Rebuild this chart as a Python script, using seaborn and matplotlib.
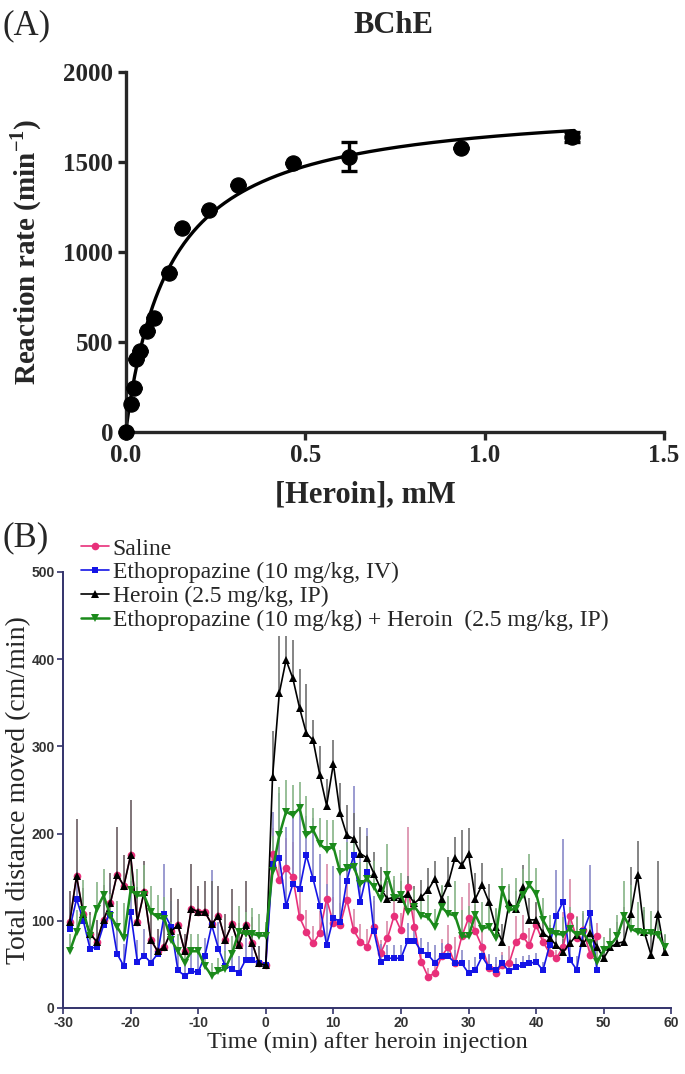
import numpy as np
import pandas as pd
import matplotlib
matplotlib.use("Agg")
import matplotlib.pyplot as plt
import seaborn as sns

# ---------------- Panel A: BChE kinetics ----------------
conc = [0.0, 0.0156, 0.0227, 0.0296, 0.0405, 0.059, 0.079, 0.1196, 0.156,
        0.233, 0.314, 0.467, 0.623, 0.934, 1.243]
rate = [0, 154, 241, 402, 450, 559, 635, 885, 1130, 1231, 1370, 1496, 1528, 1578, 1639]
rate_sem = [0, 0, 0, 0, 0, 0, 0, 0, 0, 0, 0, 0, 80, 0, 28]

# ---------------- Panel B: locomotor activity ----------------
t_pre = list(range(-29, 1))
t_post_short = list(range(1, 50))
t_post_long = list(range(1, 60))

# saline and heroin groups share the baseline trace
baseline_pre = [99, 151, 108, 85, 76, 101, 120, 153, 140, 175, 99, 133, 78, 65, 70,
                88, 95, 65, 114, 110, 110, 96, 106, 78, 96, 72, 95, 74, 51, 49]
baseline_pre_err = [35, 66, 30, 25, 25, 40, 35, 55, 35, 63, 40, 35, 30, 25, 30,
                    50, 30, 20, 51, 30, 36, 50, 34, 30, 40, 25, 50, 30, 20, 10]

etho_pre = [91, 125, 100, 68, 70, 95, 108, 62, 48, 110, 53, 60, 52, 62, 108,
            93, 43, 37, 42, 41, 60, 95, 68, 48, 45, 40, 55, 55, 51, 49]
etho_pre_err = [25, 33, 30, 25, 30, 30, 35, 30, 25, 35, 25, 30, 25, 20, 57,
                30, 25, 20, 25, 25, 20, 63, 30, 25, 20, 20, 25, 20, 20, 10]

combo_pre = [65, 87, 112, 82, 114, 129, 106, 93, 80, 135, 129, 129, 110, 104, 102,
             78, 65, 52, 65, 65, 48, 37, 42, 45, 62, 87, 85, 85, 83, 83]
combo_pre_err = [20, 25, 35, 25, 30, 30, 25, 30, 40, 35, 30, 35, 30, 25, 25,
                 20, 20, 15, 20, 20, 15, 15, 15, 20, 20, 30, 25, 30, 25, 15]

saline_post = [176, 147, 160, 150, 104, 87, 74, 86, 125, 97, 95, 124, 89, 76, 70,
               93, 63, 80, 106, 89, 139, 93, 53, 36, 40, 59, 70, 51, 82, 103,
               88, 70, 46, 40, 49, 51, 76, 82, 72, 95, 76, 63, 57, 70, 105,
               80, 89, 61, 82]
saline_post_err = [30, 45, 35, 40, 30, 25, 20, 25, 40, 30, 25, 35, 25, 20, 20,
                   30, 15, 20, 25, 20, 68, 30, 15, 10, 15, 20, 25, 30, 45, 40,
                   30, 20, 15, 10, 15, 20, 30, 25, 20, 25, 15, 15, 10, 40, 43,
                   25, 20, 15, 15]

etho_post = [165, 172, 117, 142, 136, 175, 148, 117, 72, 103, 99, 146, 175, 122, 156,
             88, 53, 57, 57, 57, 77, 77, 65, 61, 52, 59, 59, 52, 51, 40,
             43, 59, 47, 43, 51, 42, 47, 49, 51, 53, 43, 72, 106, 122, 55,
             44, 88, 109, 43]
etho_post_err = [60, 74, 90, 80, 100, 45, 70, 60, 70, 60, 65, 50, 80, 60, 50,
                 40, 20, 15, 15, 15, 20, 20, 15, 15, 20, 15, 15, 15, 15, 15,
                 15, 15, 15, 15, 10, 10, 10, 10, 10, 10, 10, 15, 52, 72, 20,
                 15, 20, 55, 15]

heroin_post = [265, 361, 399, 378, 344, 315, 307, 267, 232, 280, 223, 198, 194, 177, 172,
               154, 137, 125, 127, 125, 131, 120, 127, 135, 148, 125, 143, 172, 164, 177,
               125, 141, 122, 93, 76, 120, 114, 139, 101, 101, 86, 80, 72, 64, 74,
               84, 74, 86, 70, 57, 70, 74, 76, 108, 152, 87, 61, 108, 64]
heroin_post_err = [53, 65, 28, 44, 45, 57, 23, 33, 30, 27, 35, 35, 30, 30, 25,
                   25, 25, 20, 20, 20, 20, 20, 20, 25, 20, 15, 30, 24, 40, 29,
                   30, 25, 20, 20, 20, 20, 20, 25, 25, 20, 15, 15, 15, 15, 20,
                   20, 20, 20, 15, 15, 20, 25, 40, 54, 40, 25, 30, 60, 20]

combo_post = [157, 198, 225, 221, 229, 198, 204, 188, 181, 185, 156, 160, 162, 142, 148,
              139, 125, 153, 126, 130, 110, 116, 106, 104, 93, 116, 108, 106, 82, 82,
              107, 91, 93, 80, 135, 112, 114, 129, 141, 131, 101, 87, 85, 84, 91,
              84, 86, 74, 53, 66, 72, 82, 105, 91, 87, 86, 86, 84, 70]
combo_post_err = [40, 55, 36, 35, 30, 45, 25, 30, 35, 30, 25, 30, 30, 25, 25,
                  30, 20, 35, 25, 25, 20, 20, 20, 25, 20, 25, 20, 40, 30, 35,
                  25, 30, 25, 35, 25, 30, 35, 30, 35, 30, 25, 20, 20, 20, 25,
                  20, 25, 20, 15, 15, 20, 25, 40, 50, 35, 30, 25, 25, 15]

group_labels = ["Saline",
                "Ethopropazine (10 mg/kg, IV)",
                "Heroin (2.5 mg/kg, IP)",
                "Ethopropazine (10 mg/kg) + Heroin  (2.5 mg/kg, IP)"]
line_colors = ["#e8307a", "#1414e6", "#000000", "#1b8a1b"]
err_colors = ["#d98aa8", "#8a8ac8", "#707070", "#86b486"]
group_markers = ["o", "s", "^", "v"]

# ---------------- style ----------------
sns.set_style("ticks")
plt.rcParams["font.family"] = ["Liberation Serif", "DejaVu Serif"]
plt.rcParams["mathtext.fontset"] = "custom"
plt.rcParams["mathtext.rm"] = "Liberation Serif"
plt.rcParams["mathtext.bf"] = "Liberation Serif:bold"
plt.rcParams["axes.unicode_minus"] = False

fig = plt.figure(figsize=(6.85, 10.74), dpi=100)
axA = fig.add_axes([0.1835, 0.598, 0.786, 0.335])
axB = fig.add_axes([0.092, 0.0615, 0.888, 0.406])

# ---- Panel A ----
# Michaelis-Menten fit: best Km on a grid, Vmax by least squares
c_arr = np.array(conc)
r_arr = np.array(rate, dtype=float)
best = None
for km in np.linspace(0.02, 0.4, 381):
    f = c_arr / (km + c_arr)
    vmax = (f @ r_arr) / (f @ f)
    sse = ((r_arr - vmax * f) ** 2).sum()
    if best is None or sse < best[0]:
        best = (sse, km, vmax)
_, km_fit, vmax_fit = best
x_fit = np.linspace(0, 1.25, 300)
y_fit = vmax_fit * x_fit / (km_fit + x_fit)

sns.lineplot(x=x_fit, y=y_fit, ax=axA, color="black", lw=2.4)
axA.errorbar(conc, rate, yerr=rate_sem, fmt="none", ecolor="black",
             elinewidth=2.4, capsize=6, capthick=2.4, zorder=3)
sns.scatterplot(x=conc, y=rate, ax=axA, color="black", s=120, edgecolor="black",
                zorder=4, clip_on=False)
axA.set_xlim(0, 1.5)
axA.set_ylim(0, 2000)
axA.set_xticks([0, 0.5, 1.0, 1.5])
axA.set_xticklabels(["0.0", "0.5", "1.0", "1.5"])
axA.set_yticks([0, 500, 1000, 1500, 2000])
sns.despine(ax=axA)
for s in ["left", "bottom"]:
    axA.spines[s].set_linewidth(2.4)
axA.tick_params(width=2.4, length=6, labelsize=18, pad=3)
for lab in axA.get_xticklabels() + axA.get_yticklabels():
    lab.set_fontweight("bold")
axA.set_xlabel("[Heroin], mM", fontsize=22, fontweight="bold", labelpad=4)
axA.xaxis.set_label_coords(0.445, -0.135)
axA.set_ylabel(r"Reaction rate (min$^{\mathbf{-1}}$)", fontsize=21,
               fontweight="bold", labelpad=14)
fig.text(0.003, 0.976, "(A)", fontsize=25, va="center", ha="left")
fig.text(0.574, 0.976, "BChE", fontsize=22, fontweight="bold", va="center", ha="center")

# ---- Panel B ----
series = [
    (t_pre + t_post_short, baseline_pre + saline_post, baseline_pre_err + saline_post_err),
    (t_pre + t_post_short, etho_pre + etho_post, etho_pre_err + etho_post_err),
    (t_pre + t_post_long, baseline_pre + heroin_post, baseline_pre_err + heroin_post_err),
    (t_pre + t_post_long, combo_pre + combo_post, combo_pre_err + combo_post_err),
]
line_widths = [1.2, 1.2, 1.2, 1.8]
marker_sizes = [5.5, 4.5, 5.5, 6]

for i, (t, y, e) in enumerate(series):
    y = np.array(y, dtype=float)
    axB.vlines(t, y, y + np.array(e), color=err_colors[i], lw=1.2, zorder=1 + i * 0.1)

for i, (t, y, e) in enumerate(series):
    df = pd.DataFrame({"time": t, "dist": y})
    sns.lineplot(data=df, x="time", y="dist", ax=axB, color=line_colors[i],
                 lw=line_widths[i], marker=group_markers[i], markersize=marker_sizes[i],
                 markeredgewidth=0, markerfacecolor=line_colors[i],
                 label=group_labels[i], zorder=3 + i)

handles, labels = axB.get_legend_handles_labels()
axB.get_legend().remove()
fig.legend(handles, labels, loc="upper left", bbox_to_anchor=(0.118, 0.499),
           frameon=False, fontsize=17, handlelength=1.2, handletextpad=0.15,
           labelspacing=0.1, borderpad=0, borderaxespad=0)

axB.set_xlim(-30, 60)
axB.set_ylim(0, 500)
axB.set_xticks(range(-30, 61, 10))
axB.set_yticks(range(0, 501, 100))
sns.despine(ax=axB)
navy = "#33336b"
for s in ["left", "bottom"]:
    axB.spines[s].set_color(navy)
    axB.spines[s].set_linewidth(1.4)
axB.tick_params(color=navy, width=1.2, length=4, labelsize=10, labelcolor="#333333", pad=2)
for lab in axB.get_xticklabels() + axB.get_yticklabels():
    lab.set_family("Liberation Sans")
    lab.set_fontweight("bold")
axB.set_xlabel("Time (min) after heroin injection", fontsize=17.5, labelpad=1)
axB.set_ylabel("Total distance moved (cm/min)", fontsize=20)
axB.yaxis.set_label_coords(-0.052, 0.5)
fig.text(0.003, 0.499, "(B)", fontsize=25, va="center", ha="left")

fig.savefig("out.png", dpi=100)
